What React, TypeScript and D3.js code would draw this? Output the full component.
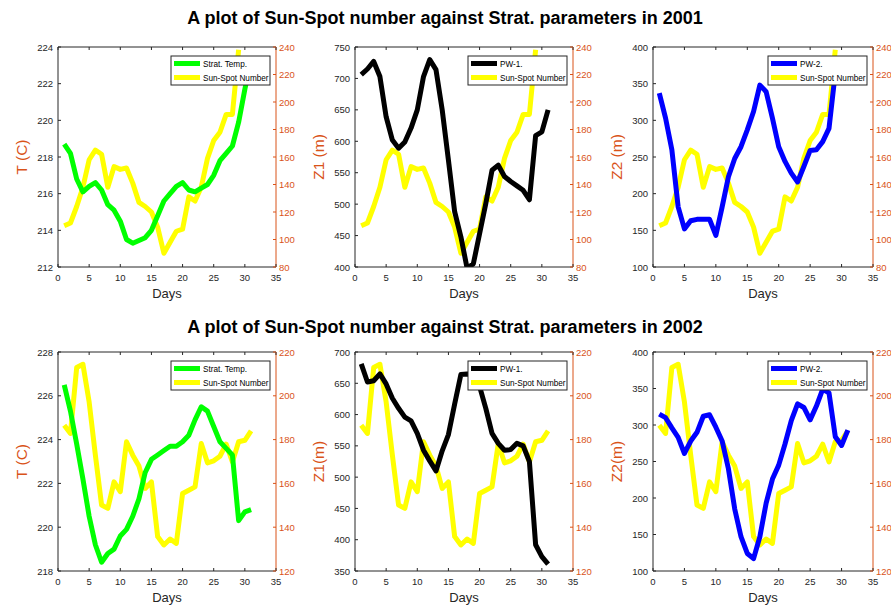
import React from "react";
import * as d3 from "d3";

// Day index along the x axis
const days = [1, 2, 3, 4, 5, 6, 7, 8, 9, 10, 11, 12, 13, 14, 15, 16, 17, 18, 19, 20, 21, 22, 23, 24, 25, 26, 27, 28, 29, 30, 31];

// Daily sun-spot numbers
const sunspot2001 = [110, 112, 124, 138, 158, 165, 162, 138, 153, 151, 152, 141, 127, 124, 120, 109, 90, 98, 106, 107.5, 131, 128, 138, 159, 172, 178, 191, 191, 238];
const sunspot2002 = [186.6, 182.8, 212.9, 214.4, 197.2, 172.9, 150.1, 148.6, 160.7, 156.2, 179, 172.9, 167.9, 157.7, 160.7, 135.7, 131.9, 134.6, 132.6, 155.4, 156.9, 158.4, 178.2, 169.4, 170.3, 172.4, 177.9, 169.8, 179, 179.7, 184];

// Stratospheric parameters
const temp2001 = [218.7, 218.2, 216.8, 216.1, 216.4, 216.6, 216.2, 215.4, 215.1, 214.5, 213.5, 213.3, 213.45, 213.6, 214.0, 214.8, 215.6, 216.0, 216.4, 216.6, 216.2, 216.1, 216.3, 216.5, 217.0, 217.8, 218.2, 218.6, 219.9, 221.7, 223.3];
const pw1_2001 = [706, 715, 727, 703, 639, 602, 589, 599, 621, 650, 703, 730, 714, 650, 570, 488, 448, 398, 405, 453, 501, 554, 562, 544, 536, 529, 522, 507, 609, 615, 650];
const pw2_2001 = [337, 303, 260, 182, 152, 163, 165, 165, 165, 143, 182, 223, 248, 264, 287, 312, 348, 339, 303, 264, 244, 228, 216, 237, 259, 260, 271, 289, 365, 375, 382];

const temp2002 = [226.5, 225.3, 223.8, 222.2, 220.5, 219.2, 218.4, 218.8, 219.0, 219.6, 219.9, 220.5, 221.3, 222.5, 223.1, 223.3, 223.5, 223.7, 223.7, 223.9, 224.2, 224.9, 225.5, 225.3, 224.6, 223.9, 223.6, 223.3, 220.3, 220.7, 220.8];
const pw1_2002 = [681, 652, 654, 665, 649, 626, 610, 596, 590, 570, 543, 526, 510, 542, 568, 617, 664, 665, 662, 645, 610, 570, 554, 543, 544, 554, 550, 525, 392, 373, 361];
const pw2_2002 = [315, 310, 296, 283, 261, 278, 290, 312, 314, 297, 278, 240, 185, 147, 124, 117, 147, 193, 226, 245, 274, 306, 329, 324, 307, 326, 349, 344, 284, 272, 293];

// Axis tick labels
const xTicks = [0, 5, 10, 15, 20, 25, 30, 35];
const titles = [
  "A plot of Sun-Spot number against Strat. parameters in 2001",
  "A plot of Sun-Spot number against Strat. parameters in 2002",
];

const FONT = "'Liberation Sans', Arial, Helvetica, sans-serif";
const AXIS = "#262626";
const ORANGE = "#D95319";

type Panel = {
  id: string;
  x0: number;
  x1: number;
  y0: number;
  y1: number;
  left: number[];
  right: number[];
  leftDomain: [number, number];
  leftStep: number;
  rightDomain: [number, number];
  rightStep: number;
  color: string;
  name: string;
  ylabel: string;
};

const cols = [
  [58, 276],
  [355, 573],
  [653, 873],
];
const rows = [
  [47, 267],
  [352, 571],
];

const panels: Panel[] = [
  { id: "a", x0: cols[0][0], x1: cols[0][1], y0: rows[0][0], y1: rows[0][1], left: temp2001, right: sunspot2001, leftDomain: [212, 224], leftStep: 2, rightDomain: [80, 240], rightStep: 20, color: "#00FF00", name: "Strat. Temp.", ylabel: "T (C)" },
  { id: "b", x0: cols[1][0], x1: cols[1][1], y0: rows[0][0], y1: rows[0][1], left: pw1_2001, right: sunspot2001, leftDomain: [400, 750], leftStep: 50, rightDomain: [80, 240], rightStep: 20, color: "#000000", name: "PW-1.", ylabel: "Z1 (m)" },
  { id: "c", x0: cols[2][0], x1: cols[2][1], y0: rows[0][0], y1: rows[0][1], left: pw2_2001, right: sunspot2001, leftDomain: [100, 400], leftStep: 50, rightDomain: [80, 240], rightStep: 20, color: "#0000FF", name: "PW-2.", ylabel: "Z2 (m)" },
  { id: "d", x0: cols[0][0], x1: cols[0][1], y0: rows[1][0], y1: rows[1][1], left: temp2002, right: sunspot2002, leftDomain: [218, 228], leftStep: 2, rightDomain: [120, 220], rightStep: 20, color: "#00FF00", name: "Strat. Temp.", ylabel: "T (C)" },
  { id: "e", x0: cols[1][0], x1: cols[1][1], y0: rows[1][0], y1: rows[1][1], left: pw1_2002, right: sunspot2002, leftDomain: [350, 700], leftStep: 50, rightDomain: [120, 220], rightStep: 20, color: "#000000", name: "PW-1.", ylabel: "Z1(m)" },
  { id: "f", x0: cols[2][0], x1: cols[2][1], y0: rows[1][0], y1: rows[1][1], left: pw2_2002, right: sunspot2002, leftDomain: [100, 400], leftStep: 50, rightDomain: [120, 220], rightStep: 20, color: "#0000FF", name: "PW-2.", ylabel: "Z2(m)" },
];

const TICK = 3;
const TICK_FONT = 9.5;

function PanelView({ p }: { p: Panel }) {
  const x = d3.scaleLinear().domain([0, 35]).range([p.x0, p.x1]);
  const yl = d3.scaleLinear().domain(p.leftDomain).range([p.y1, p.y0]);
  const yr = d3.scaleLinear().domain(p.rightDomain).range([p.y1, p.y0]);
  const lineL = d3.line<number>().x((_, i) => x(days[i])).y((v) => yl(v));
  const lineR = d3.line<number>().x((_, i) => x(days[i])).y((v) => yr(v));
  const leftTicks = d3.range(p.leftDomain[0], p.leftDomain[1] + 1e-9, p.leftStep);
  const rightTicks = d3.range(p.rightDomain[0], p.rightDomain[1] + 1e-9, p.rightStep);
  const cx = (p.x0 + p.x1) / 2;
  const cy = (p.y0 + p.y1) / 2;

  // legend box in the upper-right corner
  const lgW = 99;
  const lgH = 29;
  const lgX = p.x1 - 6 - lgW;
  const lgY = p.y0 + 9;
  const entries = [
    { color: p.color, label: p.name },
    { color: "#FFFF00", label: "Sun-Spot Number" },
  ];

  return (
    <g>
      <defs>
        <clipPath id={`clip-${p.id}`}>
          <rect x={p.x0} y={p.y0} width={p.x1 - p.x0} height={p.y1 - p.y0} />
        </clipPath>
      </defs>
      <rect x={p.x0} y={p.y0} width={p.x1 - p.x0} height={p.y1 - p.y0} fill="#fff" />
      <g clipPath={`url(#clip-${p.id})`}>
        <path d={lineR(p.right) || ""} fill="none" stroke="#FFFF00" strokeWidth={5} strokeLinejoin="round" />
        <path d={lineL(p.left) || ""} fill="none" stroke={p.color} strokeWidth={5} strokeLinejoin="round" />
      </g>

      {/* frame */}
      <line x1={p.x0} x2={p.x1} y1={p.y1} y2={p.y1} stroke={AXIS} strokeWidth={1} />
      <line x1={p.x0} x2={p.x1} y1={p.y0} y2={p.y0} stroke={AXIS} strokeWidth={1} />
      <line x1={p.x0} x2={p.x0} y1={p.y0} y2={p.y1} stroke={AXIS} strokeWidth={1} />
      <line x1={p.x1} x2={p.x1} y1={p.y0} y2={p.y1} stroke={ORANGE} strokeWidth={1} />

      {/* x ticks, bottom and top */}
      {xTicks.map((t) => (
        <g key={`x${t}`}>
          <line x1={x(t)} x2={x(t)} y1={p.y1} y2={p.y1 - TICK} stroke={AXIS} />
          <line x1={x(t)} x2={x(t)} y1={p.y0} y2={p.y0 + TICK} stroke={AXIS} />
          <text x={x(t)} y={p.y1 + 14} textAnchor="middle" fontSize={TICK_FONT} fill={AXIS} fontFamily={FONT}>
            {t}
          </text>
        </g>
      ))}

      {/* left ticks */}
      {leftTicks.map((t) => (
        <g key={`l${t}`}>
          <line x1={p.x0} x2={p.x0 + TICK} y1={yl(t)} y2={yl(t)} stroke={AXIS} />
          <text x={p.x0 - 5} y={yl(t) + 3.5} textAnchor="end" fontSize={TICK_FONT} fill={AXIS} fontFamily={FONT}>
            {t}
          </text>
        </g>
      ))}

      {/* right ticks */}
      {rightTicks.map((t) => (
        <g key={`r${t}`}>
          <line x1={p.x1} x2={p.x1 - TICK} y1={yr(t)} y2={yr(t)} stroke={ORANGE} />
          <text x={p.x1 + 3} y={yr(t) + 3.5} textAnchor="start" fontSize={TICK_FONT} fill={ORANGE} fontFamily={FONT}>
            {t}
          </text>
        </g>
      ))}

      {/* axis labels */}
      <text x={cx} y={p.y1 + 31} textAnchor="middle" fontSize={13} fill={AXIS} fontFamily={FONT}>
        Days
      </text>
      <text
        transform={`translate(${p.x0 - 31},${cy}) rotate(-90)`}
        textAnchor="middle"
        fontSize={15.5}
        fill={ORANGE}
        fontFamily={FONT}
      >
        {p.ylabel}
      </text>

      {/* legend */}
      <rect x={lgX} y={lgY} width={lgW} height={lgH} fill="#fff" stroke={AXIS} strokeWidth={1} />
      {entries.map((e, i) => (
        <g key={e.label}>
          <line x1={lgX + 3} x2={lgX + 29} y1={lgY + 7.5 + i * 14} y2={lgY + 7.5 + i * 14} stroke={e.color} strokeWidth={5} />
          <text x={lgX + 32} y={lgY + 10.5 + i * 14} fontSize={8.2} fill="#000" fontFamily={FONT}>
            {e.label}
          </text>
        </g>
      ))}
    </g>
  );
}

export default function App() {
  return (
    <svg
      width={891}
      height={614}
      viewBox="0 0 891 614"
      style={{ position: "absolute", left: 0, top: 0, background: "#fff" }}
    >
      <rect width={891} height={614} fill="#fff" />
      <text x={445} y={24} textAnchor="middle" fontSize={18} fontWeight="bold" fill="#000" fontFamily={FONT}>
        {titles[0]}
      </text>
      <text x={445} y={333} textAnchor="middle" fontSize={18} fontWeight="bold" fill="#000" fontFamily={FONT}>
        {titles[1]}
      </text>
      {panels.map((p) => (
        <PanelView key={p.id} p={p} />
      ))}
    </svg>
  );
}
